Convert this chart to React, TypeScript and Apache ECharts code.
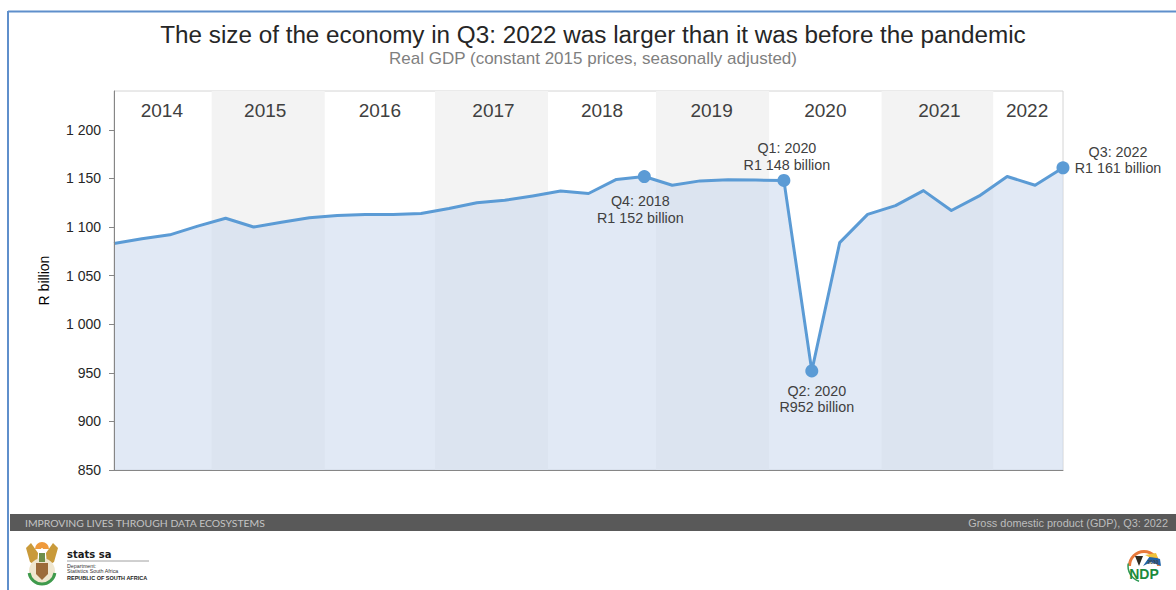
import React, { useEffect, useRef } from "react";
import * as echarts from "echarts";

const FONT = '"Liberation Sans", Arial, sans-serif';

// Real GDP by quarter, Q1 2014 to Q3 2022 (R billion)
const gdpValues = [
  1083, 1088, 1092, 1101, 1109, 1100, 1105, 1109.5, 1112, 1113, 1112.8, 1114,
  1119, 1125, 1127.5, 1132, 1137, 1134.5, 1149, 1152, 1143, 1147.5, 1148.8, 1148.3,
  1148, 952, 1084, 1113, 1122, 1137.5, 1117, 1132, 1152, 1143, 1161,
];
const yTicks = [850, 900, 950, 1000, 1050, 1100, 1150, 1200];
const years = ["2014", "2015", "2016", "2017", "2018", "2019", "2020", "2021", "2022"];
const yearEdges = [0, 3.5, 7.55, 11.5, 15.55, 19.42, 23.47, 27.5, 31.5, 34];
const yearLabelShift = [-1, -3, 0, 2, 0, -1, 0, 2, -1];
const calloutIndex = [19, 24, 25, 34];
const calloutLines = [
  ["Q4: 2018", "R1 152 billion"],
  ["Q1: 2020", "R1 148 billion"],
  ["Q2: 2020", "R952 billion"],
  ["Q3: 2022", "R1 161 billion"],
];
const calloutOffset = [
  [-4, 33],
  [3, -24],
  [5, 28],
  [55, -8],
];

const spaced = (v: number) => {
  const s = String(v);
  return s.length > 3 ? s.slice(0, -3) + " " + s.slice(-3) : s;
};

// Coat of arms and NDP badge, built from plain shapes
const arms = [
  { type: "sector", shape: { cx: 42, cy: 549, r: 7, r0: 1, startAngle: Math.PI, endAngle: 2 * Math.PI }, style: { fill: "#ef9a3c" } },
  { type: "polygon", shape: { points: [[26, 548], [31, 543], [38, 553], [37, 566], [30, 562]] }, style: { fill: "#c99a3a" } },
  { type: "polygon", shape: { points: [[58, 548], [53, 543], [46, 553], [47, 566], [54, 562]] }, style: { fill: "#c99a3a" } },
  { type: "circle", shape: { cx: 42, cy: 571, r: 13 }, style: { fill: "#efe6cf" } },
  { type: "arc", shape: { cx: 42, cy: 571, r: 13, startAngle: 0.15, endAngle: Math.PI - 0.15 }, style: { stroke: "#3f9a4c", lineWidth: 3, fill: "none" } },
  { type: "polygon", shape: { points: [[36, 563], [48, 563], [48, 574], [42, 580], [36, 574]] }, style: { fill: "#9c6b3a" } },
  { type: "rect", shape: { x: 39, y: 553, width: 6, height: 9 }, style: { fill: "#6f8f4a" } },
];

const badge = [
  { type: "sector", shape: { cx: 1144, cy: 566, r: 16, r0: 13, startAngle: Math.PI, endAngle: 2 * Math.PI }, style: { fill: "#e8793a" } },
  { type: "arc", shape: { cx: 1144, cy: 566, r: 16, startAngle: Math.PI * 0.6, endAngle: Math.PI * 1.05 }, style: { stroke: "#2f9a55", lineWidth: 1.5, fill: "none" } },
  { type: "polygon", shape: { points: [[1135, 556], [1143, 556], [1139, 566]] }, style: { fill: "#2d2a20" } },
  { type: "polygon", shape: { points: [[1143, 566], [1150, 556], [1160, 559], [1161, 566], [1151, 562]] }, style: { fill: "#1f63a8" } },
  { type: "polygon", shape: { points: [[1145, 555], [1156, 553], [1158, 558], [1149, 557]] }, style: { fill: "#f0c23c" } },
  { type: "text", x: 1153, y: 562, style: { text: "2030", font: `bold 5px ${FONT}`, fill: "#444", textAlign: "center", textVerticalAlign: "middle" } },
  { type: "text", x: 1144, y: 574, style: { text: "NDP", font: `bold 14px ${FONT}`, fill: "#1c8a3c", textAlign: "center", textVerticalAlign: "middle" } },
];

export default function App() {
  const ref = useRef<HTMLDivElement>(null);

  useEffect(() => {
    const chart = echarts.init(ref.current!, null, { renderer: "svg" });
    chart.setOption({
      animation: false,
      backgroundColor: "#ffffff",
      textStyle: { fontFamily: FONT },
      title: {
        text: "The size of the economy in Q3: 2022 was larger than it was before the pandemic",
        subtext: "Real GDP (constant 2015 prices, seasonally adjusted)",
        left: 588,
        top: 17,
        textAlign: "center",
        itemGap: 4,
        textStyle: { fontFamily: FONT, fontSize: 24.25, fontWeight: "normal", color: "#262626" },
        subtextStyle: { fontFamily: FONT, fontSize: 17, color: "#7f7f7f" },
      },
      grid: {
        left: 114,
        right: 113,
        top: 91,
        bottom: 120,
        show: true,
        borderColor: "#d4d4d4",
        borderWidth: 1,
        backgroundColor: "transparent",
      },
      xAxis: {
        type: "value",
        min: 0,
        max: 34,
        z: 10,
        splitLine: { show: false },
        axisTick: { show: false },
        axisLabel: { show: false },
        axisLine: { lineStyle: { color: "#868686", width: 1 } },
      },
      yAxis: {
        type: "value",
        min: 850,
        max: 1240,
        z: 10,
        name: "R billion",
        nameLocation: "middle",
        nameGap: 63,
        nameRotate: 90,
        nameTextStyle: { fontFamily: FONT, fontSize: 14, color: "#000000" },
        splitLine: { show: false },
        axisLine: { show: true, lineStyle: { color: "#868686", width: 1 } },
        axisTick: { show: true, length: 5, customValues: yTicks, lineStyle: { color: "#868686" } },
        axisLabel: {
          customValues: yTicks,
          margin: 13,
          fontFamily: FONT,
          fontSize: 14,
          color: "#262626",
          formatter: (v: number) => spaced(v),
        },
      },
      series: [
        {
          type: "line",
          z: 1,
          data: [],
          markArea: {
            silent: true,
            z: 1,
            label: {
              position: "insideTop",
              distance: 10,
              fontFamily: FONT,
              fontSize: 19,
              color: "#404040",
            },
            data: years.map((y, i) => [
              {
                name: y,
                xAxis: yearEdges[i],
                itemStyle: { color: i % 2 === 1 ? "#f3f3f3" : "rgba(255,255,255,0)" },
                label: { offset: [yearLabelShift[i], 0] },
              },
              { xAxis: yearEdges[i + 1] },
            ]),
          },
        },
        {
          type: "line",
          z: 3,
          symbol: "none",
          data: gdpValues.map((v, i) => [i, v]),
          lineStyle: { color: "#5b9bd5", width: 3, join: "round" },
          areaStyle: { color: "rgba(205,218,238,0.6)", opacity: 1, origin: "start" },
        },
        {
          type: "scatter",
          z: 4,
          clip: false,
          symbolSize: 13,
          itemStyle: { color: "#5b9bd5", opacity: 1 },
          data: calloutIndex.map((idx, i) => ({
            value: [idx, gdpValues[idx]],
            label: {
              show: true,
              position: "inside",
              offset: calloutOffset[i],
              formatter: calloutLines[i].join("\n"),
              fontFamily: FONT,
              fontSize: 14.3,
              lineHeight: 16.5,
              color: "#404040",
              align: "center",
              verticalAlign: "middle",
            },
          })),
        },
      ],
      graphic: [
        // slide frame
        { type: "line", shape: { x1: 8, y1: 11.5, x2: 1176, y2: 11.5 }, style: { stroke: "#5f8fcb", lineWidth: 2 } },
        { type: "line", shape: { x1: 8, y1: 11, x2: 8, y2: 590 }, style: { stroke: "#5f8fcb", lineWidth: 2 } },
        // footer band
        { type: "rect", shape: { x: 10, y: 514, width: 1166, height: 17 }, style: { fill: "#595959" } },
        { type: "text", x: 25, y: 522.5, style: { text: "IMPROVING LIVES THROUGH DATA ECOSYSTEMS", font: "10.4px Lato, sans-serif", fill: "#c4c4c4", textVerticalAlign: "middle" } },
        { type: "text", x: 1168, y: 522.5, style: { text: "Gross domestic product (GDP), Q3: 2022", font: `10.9px ${FONT}`, fill: "#bdbdbd", textAlign: "right", textVerticalAlign: "middle" } },
        // department block
        ...arms,
        { type: "text", x: 67, y: 554, style: { text: "stats sa", font: 'bold 10px "DejaVu Sans", sans-serif', fill: "#1a1a1a", textVerticalAlign: "middle" } },
        { type: "line", shape: { x1: 67, y1: 561, x2: 149, y2: 561 }, style: { stroke: "#a0a0a0", lineWidth: 1 } },
        { type: "text", x: 67, y: 566, style: { text: "Department:", font: `5.3px ${FONT}`, fill: "#333", textVerticalAlign: "middle" } },
        { type: "text", x: 67, y: 571, style: { text: "Statistics South Africa", font: `5.3px ${FONT}`, fill: "#333", textVerticalAlign: "middle" } },
        { type: "text", x: 67, y: 577.5, style: { text: "REPUBLIC OF SOUTH AFRICA", font: `bold 5.5px ${FONT}`, fill: "#222", textVerticalAlign: "middle" } },
        ...badge,
      ],
    });
    return () => chart.dispose();
  }, []);

  return <div ref={ref} style={{ position: "absolute", left: 0, top: 0, width: 1176, height: 590 }} />;
}
